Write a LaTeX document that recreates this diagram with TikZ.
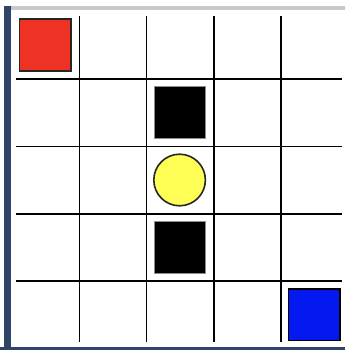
\documentclass[tikz,border=0pt]{standalone}
\usepackage{tikz}
\definecolor{framegray}{RGB}{200,200,200}
\definecolor{framedark}{RGB}{48,68,104}
\definecolor{agentred}{RGB}{238,50,36}
\definecolor{goalblue}{RGB}{4,24,240}
\definecolor{coinyellow}{RGB}{255,255,85}
\tikzset{
  gridline/.style={black, line width=1.6pt},
  tile/.style={draw=#1, line width=1.6pt},
}
\begin{document}
\begin{tikzpicture}[x=1pt,y=-1pt]
\useasboundingbox (0,0) rectangle (345,350);
\fill[white] (0,0) rectangle (345,350);
% window frame remnants
\fill[framegray] (10,6) rectangle (345,10.5);
\fill[framedark] (4,6) rectangle (10.5,350);
\fill[framedark] (0,347) rectangle (345,350);
% grid
\foreach \i in {1,...,4} {
  \draw[gridline] ({12+67.3*\i},16) -- ({12+67.3*\i},342);
  \draw[gridline] (16,{12+67.3*\i}) -- (342,{12+67.3*\i});
}
% red square (0,0)
\filldraw[tile={black!85}, fill=agentred] (19.3,19.3) rectangle (71,71);
% black squares
\filldraw[draw=black!45, line width=0.8pt, fill=black] (153.9,86.6) rectangle (205.6,138.8);
\filldraw[draw=black!45, line width=0.8pt, fill=black] (153.9,221.2) rectangle (205.6,273.6);
% yellow circle
\filldraw[tile={black!85}, fill=coinyellow] (179.6,180) circle (25.8);
% blue square
\filldraw[tile=black, fill=goalblue] (288.5,289) rectangle (339.8,340.4);
\end{tikzpicture}
\end{document}
